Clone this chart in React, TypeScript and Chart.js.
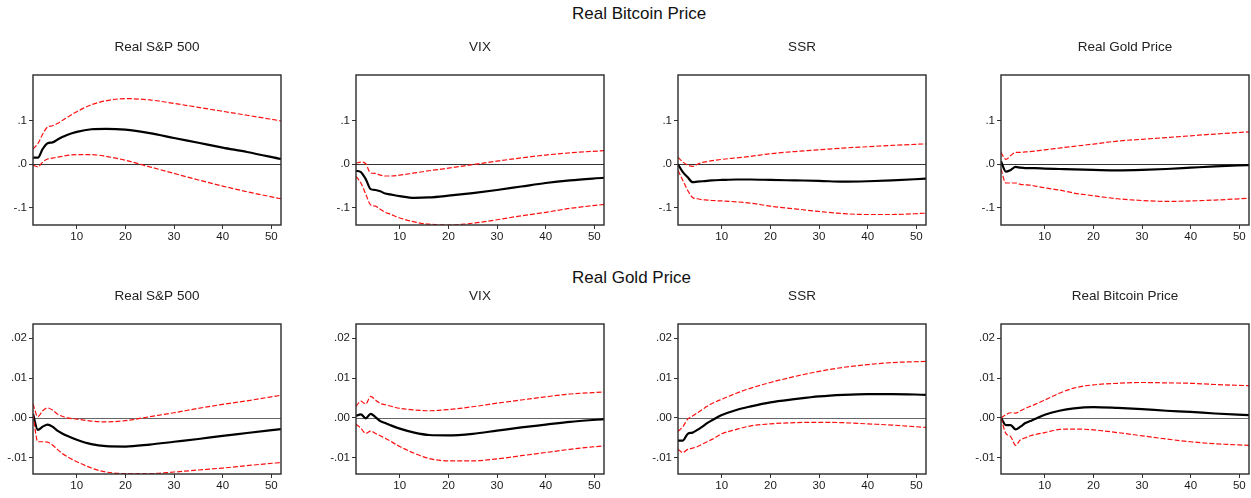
import React, { useEffect, useRef } from "react";
import { Chart, registerables } from "chart.js";

Chart.register(...registerables);

// Impulse-response horizons (periods after the shock)
const periods = [1, 2, 3, 4, 5, 6, 7, 8, 10, 13, 16, 20, 25, 30, 35, 40, 45, 52];
const xTickValues = [10, 20, 30, 40, 50];

const topYTicks = [-0.1, 0, 0.1];
const topYTickLabels = ["-.1", ".0", ".1"];
const bottomYTicks = [-0.01, 0, 0.01, 0.02];
const bottomYTickLabels = ["-.01", ".00", ".01", ".02"];

// Response of Real Bitcoin Price
const btcToSp500 = [0.015, 0.015, 0.035, 0.048, 0.05, 0.056, 0.062, 0.067, 0.074, 0.08, 0.081, 0.079, 0.071, 0.06, 0.049, 0.038, 0.028, 0.012];
const btcToSp500Upper = [0.035, 0.047, 0.069, 0.085, 0.088, 0.093, 0.1, 0.107, 0.12, 0.136, 0.145, 0.15, 0.147, 0.139, 0.13, 0.121, 0.112, 0.099];
const btcToSp500Lower = [-0.002, -0.006, 0.005, 0.012, 0.014, 0.016, 0.018, 0.02, 0.022, 0.022, 0.018, 0.009, -0.006, -0.021, -0.036, -0.05, -0.063, -0.079];

const btcToVix = [-0.015, -0.018, -0.034, -0.057, -0.059, -0.062, -0.067, -0.069, -0.073, -0.077, -0.076, -0.072, -0.066, -0.059, -0.051, -0.043, -0.037, -0.031];
const btcToVixUpper = [0.002, 0.005, 0.001, -0.02, -0.021, -0.025, -0.027, -0.027, -0.025, -0.02, -0.015, -0.009, -0.001, 0.007, 0.0145, 0.021, 0.026, 0.031];
const btcToVixLower = [-0.028, -0.043, -0.068, -0.093, -0.096, -0.103, -0.11, -0.114, -0.123, -0.132, -0.137, -0.139, -0.135, -0.127, -0.118, -0.11, -0.101, -0.092];

const btcToSsr = [0, -0.018, -0.03, -0.041, -0.04, -0.039, -0.038, -0.037, -0.036, -0.035, -0.035, -0.036, -0.037, -0.038, -0.04, -0.039, -0.037, -0.033];
const btcToSsrUpper = [0.016, 0.005, -0.002, -0.005, 0, 0.004, 0.006, 0.008, 0.011, 0.0145, 0.018, 0.024, 0.029, 0.033, 0.037, 0.04, 0.043, 0.0465];
const btcToSsrLower = [-0.0145, -0.037, -0.06, -0.076, -0.079, -0.081, -0.082, -0.083, -0.084, -0.086, -0.089, -0.096, -0.102, -0.108, -0.113, -0.115, -0.115, -0.112];

const btcToGold = [0.007, -0.017, -0.013, -0.006, -0.008, -0.009, -0.009, -0.009, -0.01, -0.011, -0.012, -0.013, -0.014, -0.013, -0.011, -0.008, -0.005, -0.002];
const btcToGoldUpper = [0.027, 0.011, 0.02, 0.027, 0.027, 0.028, 0.029, 0.03, 0.033, 0.037, 0.041, 0.046, 0.053, 0.057, 0.061, 0.065, 0.069, 0.074];
const btcToGoldLower = [-0.011, -0.043, -0.043, -0.043, -0.046, -0.047, -0.048, -0.05, -0.054, -0.059, -0.066, -0.072, -0.079, -0.083, -0.085, -0.084, -0.082, -0.078];

// Response of Real Gold Price
const goldToSp500 = [0.001, -0.003, -0.0022, -0.0017, -0.0022, -0.0032, -0.0039, -0.0045, -0.0055, -0.0066, -0.0071, -0.0072, -0.0067, -0.006, -0.0053, -0.0045, -0.0038, -0.0028];
const goldToSp500Upper = [0.0035, 0.0003, 0.0018, 0.0025, 0.002, 0.001, 0.0004, 0, -0.0003, -0.0008, -0.001, -0.0007, 0.0003, 0.0013, 0.0024, 0.0034, 0.0043, 0.0057];
const goldToSp500Lower = [0.0008, -0.006, -0.006, -0.0061, -0.0068, -0.0079, -0.0089, -0.0097, -0.011, -0.0126, -0.0136, -0.014, -0.014, -0.0136, -0.0131, -0.0126, -0.012, -0.0112];

const goldToVix = [0.0005, 0.0009, -0.0001, 0.001, 0.0002, -0.0008, -0.0013, -0.0018, -0.0027, -0.0037, -0.0043, -0.0044, -0.004, -0.0032, -0.0024, -0.0017, -0.001, -0.0003];
const goldToVixUpper = [0.0029, 0.0042, 0.0035, 0.0054, 0.0045, 0.0036, 0.0033, 0.003, 0.0024, 0.002, 0.0018, 0.0021, 0.0028, 0.0037, 0.0045, 0.0053, 0.006, 0.0065];
const goldToVixLower = [-0.0016, -0.0026, -0.0039, -0.0033, -0.0039, -0.0045, -0.0051, -0.0058, -0.0072, -0.0089, -0.0102, -0.0108, -0.0108, -0.0103, -0.0095, -0.0087, -0.0079, -0.007];

const goldToSsr = [-0.0057, -0.0057, -0.004, -0.0037, -0.003, -0.0022, -0.0013, -0.0006, 0.0007, 0.002, 0.0029, 0.0039, 0.0047, 0.0054, 0.0058, 0.006, 0.006, 0.0058];
const goldToSsrUpper = [-0.0034, -0.0022, -0.0003, 0.0005, 0.0013, 0.0021, 0.0029, 0.0036, 0.0047, 0.0062, 0.0075, 0.0089, 0.0104, 0.0117, 0.0127, 0.0134, 0.0139, 0.0142];
const goldToSsrLower = [-0.0079, -0.0087, -0.0079, -0.0076, -0.0072, -0.0066, -0.006, -0.0054, -0.004, -0.0029, -0.002, -0.0015, -0.0012, -0.0011, -0.0012, -0.0015, -0.0018, -0.0024];

const goldToBtc = [0, -0.0018, -0.0018, -0.0029, -0.0022, -0.0013, -0.0008, -0.0003, 0.0008, 0.0018, 0.0024, 0.0027, 0.0025, 0.0022, 0.0018, 0.0015, 0.0011, 0.0007];
const goldToBtcUpper = [0, 0.0008, 0.0013, 0.0012, 0.0018, 0.0024, 0.0029, 0.0034, 0.0045, 0.0062, 0.0075, 0.0083, 0.0087, 0.0089, 0.0088, 0.0087, 0.0084, 0.0081];
const goldToBtcLower = [0, -0.0039, -0.0047, -0.0069, -0.0055, -0.005, -0.0045, -0.0042, -0.0037, -0.0029, -0.0028, -0.003, -0.0037, -0.0045, -0.0053, -0.006, -0.0065, -0.0069];

const FONT = "'Liberation Sans', Arial, Helvetica, sans-serif";

const PAD_TOP = 45;
const Y_AXIS_W = 40;
const X_AXIS_H = 25;
const PLOT_W = 248;
const PLOT_H = 150;
const PAD_RIGHT = 2;

type PanelProps = {
  title: string;
  response: number[];
  upper: number[];
  lower: number[];
  yTicks: number[];
  yLabels: string[];
  yMin: number;
  yMax: number;
  zeroColor: string;
  left: number;
  top: number;
};

const panelDecor = {
  id: "panelDecor",
  beforeDatasetsDraw(chart: any) {
    const { ctx, chartArea } = chart;
    const y = Math.round(chart.scales.y.getPixelForValue(0)) + 0.5;
    ctx.save();
    ctx.strokeStyle = chart.options.plugins.panelDecor.zeroColor;
    ctx.lineWidth = 1;
    ctx.beginPath();
    ctx.moveTo(chartArea.left, y);
    ctx.lineTo(chartArea.right, y);
    ctx.stroke();
    ctx.restore();
  },
  afterDatasetsDraw(chart: any) {
    const { ctx, chartArea } = chart;
    ctx.save();
    ctx.strokeStyle = "#2a2a2a";
    ctx.lineWidth = 1.4;
    ctx.strokeRect(chartArea.left, chartArea.top, chartArea.right - chartArea.left, chartArea.bottom - chartArea.top);
    ctx.restore();
  },
  afterDraw(chart: any) {
    const { ctx, chartArea } = chart;
    const opts = chart.options.plugins.panelDecor;
    ctx.save();
    ctx.fillStyle = "#222";
    ctx.font = `13.5px ${FONT}`;
    ctx.textAlign = "center";
    ctx.textBaseline = "middle";
    ctx.fillText(opts.title, (chartArea.left + chartArea.right) / 2, chartArea.top - 28);
    ctx.restore();
  },
};

function Panel(props: PanelProps) {
  const ref = useRef<HTMLCanvasElement | null>(null);
  const { title, response, upper, lower, yTicks, yLabels, yMin, yMax, zeroColor } = props;

  useEffect(() => {
    if (!ref.current) return;
    const toPoints = (arr: number[]) => periods.map((p, i) => ({ x: p, y: arr[i] }));
    const band = (arr: number[]) => ({
      data: toPoints(arr),
      borderColor: "#ff1010",
      borderWidth: 1.2,
      borderDash: [5, 2],
      pointRadius: 0,
      cubicInterpolationMode: "monotone" as const,
      fill: false,
    });
    const chart = new Chart(ref.current, {
      type: "line",
      data: {
        datasets: [
          band(upper),
          band(lower),
          {
            data: toPoints(response),
            borderColor: "#000",
            borderWidth: 2.2,
            pointRadius: 0,
            cubicInterpolationMode: "monotone",
            fill: false,
          },
        ],
      },
      options: {
        responsive: false,
        animation: false,
        events: [],
        layout: { padding: { top: PAD_TOP, right: PAD_RIGHT, left: 0, bottom: 0 } },
        plugins: {
          legend: { display: false },
          tooltip: { enabled: false },
          // @ts-ignore
          panelDecor: { title, zeroColor },
        },
        scales: {
          x: {
            type: "linear",
            min: 1,
            max: 52,
            afterBuildTicks: (s: any) => {
              s.ticks = xTickValues.map((v) => ({ value: v }));
            },
            afterFit: (s: any) => {
              s.height = X_AXIS_H;
            },
            grid: { drawOnChartArea: false, drawTicks: true, tickLength: 4, color: "#333", lineWidth: 1 },
            border: { display: false },
            ticks: {
              autoSkip: false,
              maxRotation: 0,
              padding: 1,
              color: "#1a1a1a",
              font: { family: FONT, size: 11.5 },
              callback: (v: any) => String(v),
            },
          },
          y: {
            type: "linear",
            min: yMin,
            max: yMax,
            afterBuildTicks: (s: any) => {
              s.ticks = yTicks.map((v) => ({ value: v }));
            },
            afterFit: (s: any) => {
              s.width = Y_AXIS_W;
            },
            grid: { drawOnChartArea: false, drawTicks: true, tickLength: 4, color: "#333", lineWidth: 1 },
            border: { display: false },
            ticks: {
              padding: 2,
              color: "#1a1a1a",
              font: { family: FONT, size: 11.5 },
              callback: (v: any) => {
                const i = yTicks.indexOf(v);
                return i >= 0 ? yLabels[i] : "";
              },
            },
          },
        },
      },
      plugins: [panelDecor],
    });
    return () => chart.destroy();
  }, [title, response, upper, lower, yTicks, yLabels, yMin, yMax, zeroColor]);

  const w = Y_AXIS_W + PLOT_W + PAD_RIGHT;
  const h = PAD_TOP + PLOT_H + X_AXIS_H;
  return (
    <canvas
      ref={ref}
      width={w}
      height={h}
      style={{
        position: "absolute",
        left: props.left - Y_AXIS_W,
        top: props.top - PAD_TOP,
        width: w,
        height: h,
      }}
    />
  );
}

const columnLefts = [33, 356, 678, 1001];
const topRowPlotTop = 75;
const bottomRowPlotTop = 324;

const topRow = [
  { title: "Real S&P 500", response: btcToSp500, upper: btcToSp500Upper, lower: btcToSp500Lower },
  { title: "VIX", response: btcToVix, upper: btcToVixUpper, lower: btcToVixLower },
  { title: "SSR", response: btcToSsr, upper: btcToSsrUpper, lower: btcToSsrLower },
  { title: "Real Gold Price", response: btcToGold, upper: btcToGoldUpper, lower: btcToGoldLower },
];

const bottomRow = [
  { title: "Real S&P 500", response: goldToSp500, upper: goldToSp500Upper, lower: goldToSp500Lower },
  { title: "VIX", response: goldToVix, upper: goldToVixUpper, lower: goldToVixLower },
  { title: "SSR", response: goldToSsr, upper: goldToSsrUpper, lower: goldToSsrLower },
  { title: "Real Bitcoin Price", response: goldToBtc, upper: goldToBtcUpper, lower: goldToBtcLower },
];

const headingStyle: React.CSSProperties = {
  position: "absolute",
  left: 572,
  fontFamily: FONT,
  fontSize: 17,
  lineHeight: "17px",
  color: "#111",
  whiteSpace: "nowrap",
};

export default function App() {
  return (
    <div
      style={{
        position: "absolute",
        left: 0,
        top: 0,
        width: 1251,
        height: 498,
        overflow: "hidden",
        background: "#fff",
      }}
    >
      <div style={{ ...headingStyle, top: 5 }}>Real Bitcoin Price</div>
      <div style={{ ...headingStyle, top: 269 }}>Real Gold Price</div>
      {topRow.map((p, i) => (
        <Panel
          key={"t" + i}
          {...p}
          yTicks={topYTicks}
          yLabels={topYTickLabels}
          yMin={-0.139}
          yMax={0.204}
          zeroColor="#333"
          left={columnLefts[i]}
          top={topRowPlotTop}
        />
      ))}
      {bottomRow.map((p, i) => (
        <Panel
          key={"b" + i}
          {...p}
          yTicks={bottomYTicks}
          yLabels={bottomYTickLabels}
          yMin={-0.0141}
          yMax={0.0236}
          zeroColor="#666"
          left={columnLefts[i]}
          top={bottomRowPlotTop}
        />
      ))}
    </div>
  );
}
